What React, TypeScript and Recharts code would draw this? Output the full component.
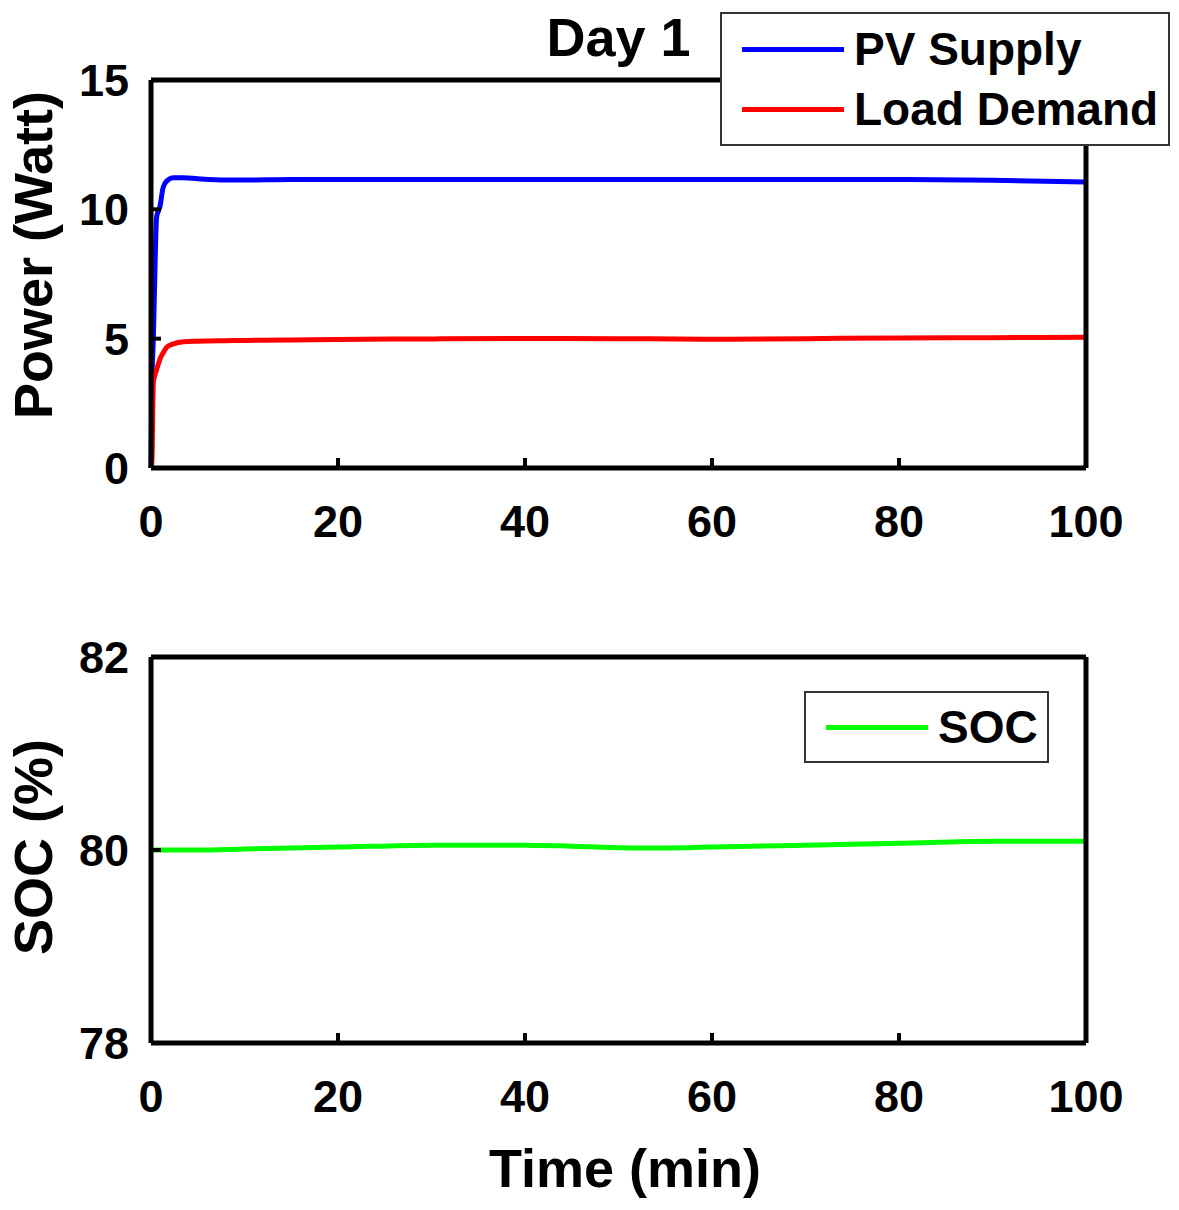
import React from 'react';
import { LineChart, Line, XAxis, YAxis, Legend } from 'recharts';

// time axis (min) shared by the power traces
const timeMin = [0, 0.1, 0.25, 0.35, 0.6, 0.8, 0.95, 1.3, 1.7, 2.4, 3.5, 5, 8, 10, 15, 20, 30, 40, 50, 60, 70, 80, 90, 100];
const pvSupply = [0, 3.3, 5.0, 6.5, 9.7, 9.95, 10.1, 10.85, 11.1, 11.22, 11.22, 11.18, 11.13, 11.13, 11.15, 11.15, 11.15, 11.15, 11.15, 11.15, 11.15, 11.15, 11.12, 11.06];
const loadDemand = [0, 0.3, 3.3, 3.5, 3.8, 4.04, 4.2, 4.45, 4.68, 4.8, 4.88, 4.9, 4.92, 4.93, 4.95, 4.97, 4.99, 5.01, 5.0, 4.98, 5.0, 5.03, 5.04, 5.05];

// SOC trace
const socTime = [0, 5, 10, 20, 30, 40, 45, 52, 60, 70, 80, 90, 100];
const socValues = [80.0, 80.0, 80.01, 80.03, 80.05, 80.05, 80.04, 80.02, 80.03, 80.05, 80.07, 80.09, 80.09];

const xTicks = [0, 20, 40, 60, 80, 100];
const powerTicks = [0, 5, 10, 15];
const socTicks = [78, 80, 82];

const powerData = timeMin.map((t, i) => ({ t, pv: pvSupply[i], load: loadDemand[i] }));
const socData = socTime.map((t, i) => ({ t, soc: socValues[i] }));

const FONT = '"Liberation Sans", Arial, Helvetica, sans-serif';
const axisLine = { stroke: '#000', strokeWidth: 5 };
const tickLine = { stroke: '#000', strokeWidth: 4 };
const tickStyle = { fill: '#000', fontSize: 45, fontWeight: 700, fontFamily: FONT };
const titleStyle = { fill: '#000', fontSize: 54, fontWeight: 700, fontFamily: FONT };

const yTitle = (text: string, cy: number) => (props: any) => {
  const vb = props.viewBox;
  const cx = 52;
  const y = vb.y + cy;
  return (
    <text x={cx} y={y} transform={`rotate(-90 ${cx} ${y})`} textAnchor="middle" {...titleStyle}>
      {text}
    </text>
  );
};

const legendBox = (items: { name: string; color: string }[], w: number, rowH: number, pad: number) => () => (
  <div
    style={{
      width: w,
      boxSizing: 'border-box',
      border: '2px solid #333',
      background: '#fff',
      padding: `${pad}px 0`,
      fontFamily: FONT,
      fontWeight: 700,
      fontSize: 46,
      color: '#000',
    }}
  >
    {items.map((it) => (
      <div key={it.name} style={{ display: 'flex', alignItems: 'center', height: rowH }}>
        <span style={{ display: 'inline-block', width: 102, height: 5, background: it.color, marginLeft: 20, marginRight: 10 }} />
        <span style={{ lineHeight: 1 }}>{it.name}</span>
      </div>
    ))}
  </div>
);

function PowerChart() {
  return (
    <LineChart width={1179} height={560} data={powerData} margin={{ top: 79, right: 92, bottom: 32, left: 0 }}>
      <XAxis
        xAxisId="b"
        dataKey="t"
        type="number"
        domain={[0, 100]}
        ticks={xTicks}
        interval={0}
        height={60}
        tickSize={-10}
        tickMargin={47}
        axisLine={axisLine}
        tickLine={tickLine}
        tick={tickStyle}
      />
      <XAxis
        xAxisId="t"
        orientation="top"
        type="number"
        domain={[0, 100]}
        ticks={xTicks}
        interval={0}
        height={1}
        tickSize={-10}
        axisLine={axisLine}
        tickLine={tickLine}
        tick={false}
        label={(props: any) => (
          <text x={props.viewBox.x + props.viewBox.width / 2} y={56} textAnchor="middle" {...titleStyle}>
            Day 1
          </text>
        )}
      />
      <YAxis
        yAxisId="l"
        type="number"
        domain={[0, 15]}
        ticks={powerTicks}
        interval={0}
        width={151}
        tickSize={-10}
        tickMargin={32}
        axisLine={axisLine}
        tickLine={tickLine}
        tick={tickStyle}
        label={yTitle('Power (Watt)', 175)}
      />
      <YAxis
        yAxisId="r"
        orientation="right"
        type="number"
        domain={[0, 15]}
        ticks={powerTicks}
        interval={0}
        width={1}
        tickSize={-10}
        axisLine={axisLine}
        tickLine={tickLine}
        tick={false}
      />
      <Legend
        layout="vertical"
        align="center"
        verticalAlign="middle"
        wrapperStyle={{ left: 720, top: 12, width: 450 }}
        content={legendBox(
          [
            { name: 'PV Supply', color: '#0000ff' },
            { name: 'Load Demand', color: '#ff0000' },
          ],
          450,
          60,
          5
        )}
      />
      <Line xAxisId="b" yAxisId="l" type="monotone" dataKey="pv" name="PV Supply" stroke="#0000ff" strokeWidth={5} dot={false} isAnimationActive={false} />
      <Line xAxisId="b" yAxisId="l" type="monotone" dataKey="load" name="Load Demand" stroke="#ff0000" strokeWidth={5} dot={false} isAnimationActive={false} />
    </LineChart>
  );
}

function SocChart() {
  return (
    <LineChart width={1179} height={650} data={socData} margin={{ top: 96, right: 92, bottom: 37, left: 0 }}>
      <XAxis
        xAxisId="b"
        dataKey="t"
        type="number"
        domain={[0, 100]}
        ticks={xTicks}
        interval={0}
        height={130}
        tickSize={-10}
        tickMargin={47}
        axisLine={axisLine}
        tickLine={tickLine}
        tick={tickStyle}
        label={(props: any) => (
          <text x={625} y={props.viewBox.y + 144} textAnchor="middle" {...titleStyle}>
            Time (min)
          </text>
        )}
      />
      <XAxis
        xAxisId="t"
        orientation="top"
        type="number"
        domain={[0, 100]}
        ticks={xTicks}
        interval={0}
        height={1}
        tickSize={-10}
        axisLine={axisLine}
        tickLine={tickLine}
        tick={false}
      />
      <YAxis
        yAxisId="l"
        type="number"
        domain={[78, 82]}
        ticks={socTicks}
        interval={0}
        width={151}
        tickSize={-10}
        tickMargin={32}
        axisLine={axisLine}
        tickLine={tickLine}
        tick={tickStyle}
        label={yTitle('SOC (%)', 190)}
      />
      <YAxis
        yAxisId="r"
        orientation="right"
        type="number"
        domain={[78, 82]}
        ticks={socTicks}
        interval={0}
        width={1}
        tickSize={-10}
        axisLine={axisLine}
        tickLine={tickLine}
        tick={false}
      />
      <Legend
        layout="vertical"
        align="center"
        verticalAlign="middle"
        wrapperStyle={{ left: 804, top: 131, width: 245 }}
        content={legendBox([{ name: 'SOC', color: '#00ff00' }], 245, 62, 3)}
      />
      <Line xAxisId="b" yAxisId="l" type="monotone" dataKey="soc" name="SOC" stroke="#00ff00" strokeWidth={5} dot={false} isAnimationActive={false} />
    </LineChart>
  );
}

export default function App() {
  return (
    <div style={{ position: 'absolute', left: 0, top: 0, width: 1179, height: 1210, background: '#fff' }}>
      <div style={{ position: 'absolute', left: 0, top: 0 }}>
        <PowerChart />
      </div>
      <div style={{ position: 'absolute', left: 0, top: 560 }}>
        <SocChart />
      </div>
    </div>
  );
}
